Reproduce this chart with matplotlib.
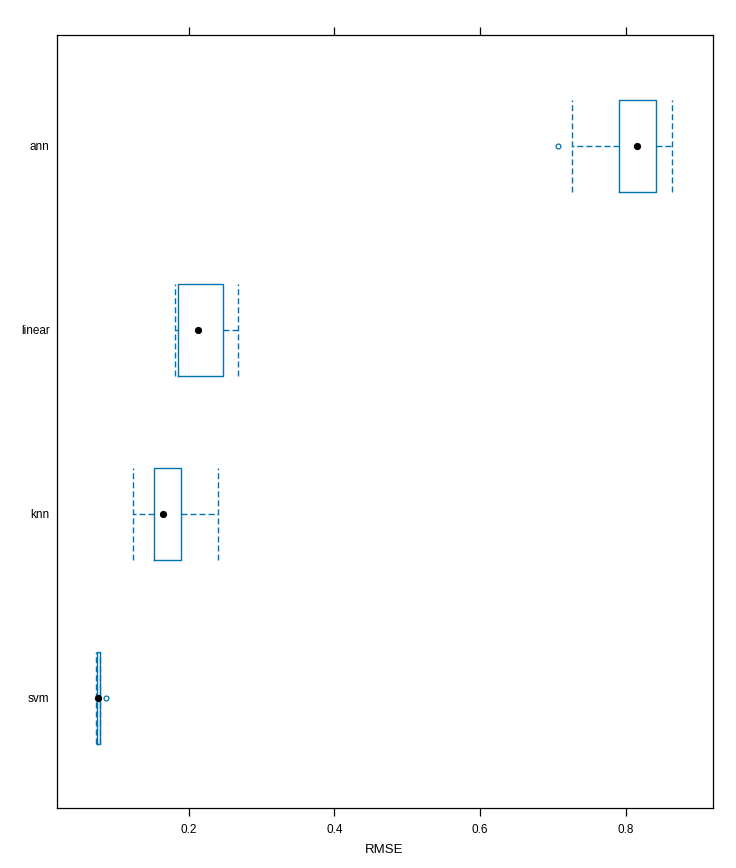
import matplotlib.pyplot as plt

plt.rcParams['font.family'] = ['Liberation Sans', 'DejaVu Sans']

# five-number summaries (RMSE)
models = ['svm', 'knn', 'linear', 'ann']
lower_whisker = [0.0732, 0.1240, 0.1816, 0.7257]
q1 = [0.0737, 0.1528, 0.1857, 0.7911]
median = [0.0751, 0.1643, 0.2128, 0.8154]
q3 = [0.0787, 0.1898, 0.2475, 0.8419]
upper_whisker = [0.0787, 0.2406, 0.2681, 0.8638]
outliers = [[0.0869], [], [], [0.7073]]

blue = '#0072B2'
dash = (0, (4.3, 2.2))

stats = []
for i, name in enumerate(models):
    stats.append({
        'label': name,
        'whislo': lower_whisker[i],
        'q1': q1[i],
        'med': median[i],
        'q3': q3[i],
        'whishi': upper_whisker[i],
        'fliers': outliers[i],
    })

fig = plt.figure(figsize=(7.36, 8.68), dpi=100)
ax = fig.add_axes([0.0768, 0.0688, 0.8913, 0.8906])

pos = [1, 2, 3, 4]
ax.bxp(stats, positions=pos, vert=False, widths=0.5, capwidths=0.5,
       showfliers=True, patch_artist=False,
       boxprops=dict(color=blue, linewidth=1.0),
       whiskerprops=dict(color=blue, linewidth=1.0, linestyle=dash),
       capprops=dict(color=blue, linewidth=1.0, linestyle=dash),
       medianprops=dict(visible=False),
       flierprops=dict(marker='o', markersize=3.5, markerfacecolor='none',
                       markeredgecolor=blue, markeredgewidth=0.9))

# median dots, lattice style
ax.plot(median, pos, linestyle='none', marker='o', markersize=4.2, color='black', zorder=5)

ax.set_xlim(0.0185, 0.9191)
ax.set_ylim(0.4, 4.6)
ax.set_xticks([0.2, 0.4, 0.6, 0.8])
ax.set_xticklabels(['0.2', '0.4', '0.6', '0.8'])
ax.set_yticks(pos)
ax.set_yticklabels(models)
ax.tick_params(axis='x', direction='out', length=6, width=0.9, labelsize=8.5,
               top=True, labeltop=False, pad=5)
ax.tick_params(axis='y', length=0, labelsize=8.5, pad=5)
for s in ax.spines.values():
    s.set_linewidth(0.9)
ax.set_xlabel('RMSE', fontsize=9.5, labelpad=6)

fig.savefig('out.png', dpi=100)
